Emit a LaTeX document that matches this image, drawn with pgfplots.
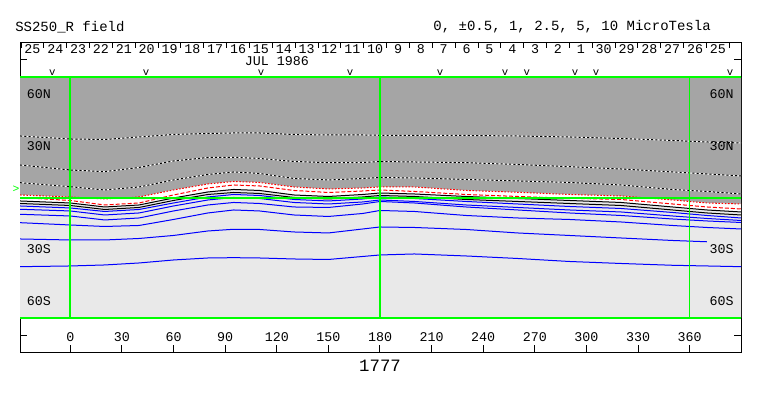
\documentclass[border=0pt]{standalone}
\usepackage{fontspec}
\setmainfont{Liberation Mono}
\usepackage{pgfplots}
\usepgfplotslibrary{fillbetween}
\pgfplotsset{compat=1.18}
\usepackage{pgfplotstable}
\definecolor{darkbg}{RGB}{165,165,165}
\definecolor{lightbg}{RGB}{233,233,233}
\definecolor{lgreen}{RGB}{0,255,0}

\pgfplotstableread{
lon D1 D2 D3 R1 R2 K1 K2 B1 B2 B3 B4 B5 B6 top bot
-29.2 35.73 18.88 8.60 1.45 0 -2.03 -3.49 -4.94 -6.85 -9.76 -14.64 -24.11 -40.20 70 -70
0 33.98 15.98 6.27 0.29 -1.74 -3.20 -4.65 -6.10 -7.84 -10.75 -15.98 -24.69 -39.79 70 -70
20 33.69 14.99 4.36 -0.87 -4.36 -5.52 -6.97 -8.13 -10.17 -13.07 -16.85 -24.69 -39.21 70 -70
40 35.15 17.43 6.10 0.29 -3.20 -4.36 -5.81 -6.97 -9.00 -11.91 -16.27 -23.82 -38.05 70 -70
60 36.60 21.20 10.17 4.36 1.45 -0.29 -1.74 -3.20 -4.94 -7.84 -12.78 -22.07 -36.31 70 -70
80 37.18 23.24 13.36 7.84 5.52 3.20 1.74 0.29 -1.45 -4.36 -9.00 -19.46 -35.15 70 -70
95 37.47 23.35 14.81 9.29 7.26 4.65 2.90 1.74 0 -2.90 -7.26 -18.47 -34.97 70 -70
110 37.47 22.66 13.94 8.71 6.68 4.07 2.32 1.16 -0.58 -3.49 -7.84 -18.59 -35.15 70 -70
130 36.60 20.91 11.04 6.10 4.07 1.45 0 -1.16 -2.90 -5.52 -10.17 -20.04 -35.73 70 -70
150 36.31 20.22 10.17 4.94 2.90 0.58 -0.87 -2.03 -3.78 -5.81 -11.04 -20.62 -36.02 70 -70
170 36.31 20.33 11.04 5.52 3.78 1.74 0.29 -0.87 -2.61 -3.78 -9.29 -18.30 -34.27 70 -70
180 36.13 20.91 11.62 6.10 4.36 2.61 1.16 0.29 -1.45 -2.32 -7.55 -17.14 -33.40 70 -70
200 36.13 20.62 11.33 6.10 3.49 2.03 0.58 -0.58 -2.32 -3.20 -8.13 -17.43 -32.82 70 -70
230 36.02 20.22 10.46 4.07 1.74 0.58 -1.16 -2.32 -4.36 -5.52 -10.46 -18.59 -33.98 70 -70
260 35.73 19.17 9.59 3.02 0.58 -0.58 -2.32 -3.78 -5.81 -7.26 -11.91 -20.62 -35.44 70 -70
290 35.15 17.89 8.71 1.74 -0.46 -1.74 -3.49 -5.23 -7.26 -9.00 -12.78 -22.07 -37.18 70 -70
320 34.27 16.56 7.26 0.87 -1.16 -2.90 -4.65 -6.39 -8.42 -10.46 -14.23 -23.53 -38.34 70 -70
350 33.11 14.81 4.65 -1.45 -3.78 -5.52 -7.26 -8.71 -10.75 -12.49 -16.27 -24.98 -39.39 70 -70
370 32.24 13.65 3.49 -3.20 -5.52 -7.26 -9.00 -10.46 -12.20 -13.65 -17.43 -25.73 -39.79 70 -70
389.8 31.66 12.49 2.03 -3.78 -6.68 -8.42 -10.17 -11.91 -13.36 -14.52 -18.30 nan -40.20 70 -70
}\contours

\begin{document}
\begin{tikzpicture}
\begin{axis}[
  scale only axis, width=540.75pt, height=232.4pt,
  xmin=-29.2, xmax=389.8, ymin=-90, ymax=90,
  axis line style={black, line width=0.75pt},
  tick align=inside,
  xtick={0,30,...,360}, xtick pos=lower, xticklabels={},
  ytick={-80,-70,...,80}, yticklabels={},
  major tick length=5.6pt,
  tick style={black, line width=0.75pt},
  no markers, unbounded coords=jump,
  every axis plot/.append style={line width=0.75pt},
]
% named boundary paths
\addplot[draw=none, name path=top] table[x=lon,y=top] {\contours};
\addplot[draw=none, name path=bot] table[x=lon,y=bot] {\contours};
\addplot[draw=none, name path=r1] table[x=lon,y=R1] {\contours};
\addplot[draw=none, name path=k1] table[x=lon,y=K1] {\contours};
% shading
\addplot[darkbg, draw=none] fill between[of=top and r1];
\addplot[white, draw=none] fill between[of=r1 and k1];
\addplot[lightbg, draw=none] fill between[of=k1 and bot];
% dashed contours (black on white)
\addplot[white] table[x=lon,y=D1] {\contours};
\addplot[black, dash pattern=on 1.6pt off 1.6pt] table[x=lon,y=D1] {\contours};
\addplot[white] table[x=lon,y=D2] {\contours};
\addplot[black, dash pattern=on 1.6pt off 1.6pt] table[x=lon,y=D2] {\contours};
\addplot[white] table[x=lon,y=D3] {\contours};
\addplot[black, dash pattern=on 1.6pt off 1.6pt] table[x=lon,y=D3] {\contours};
% red contours
\addplot[red, dash pattern=on 1.2pt off 1.2pt] table[x=lon,y=R1] {\contours};
\addplot[red, dash pattern=on 3pt off 1.5pt] table[x=lon,y=R2] {\contours};
% black contours
\addplot[black] table[x=lon,y=K1] {\contours};
\addplot[black] table[x=lon,y=K2] {\contours};
% blue contours
\addplot[blue] table[x=lon,y=B1] {\contours};
\addplot[blue] table[x=lon,y=B2] {\contours};
\addplot[blue] table[x=lon,y=B3] {\contours};
\addplot[blue] table[x=lon,y=B4] {\contours};
\addplot[blue] table[x=lon,y=B5] {\contours};
\addplot[blue] table[x=lon,y=B6] {\contours};
% green reference lines
\addplot[draw=lgreen, line width=1.2pt] coordinates {(-29.2,-0.4) (389.8,-0.4)};
\addplot[draw=lgreen, line width=1.2pt] coordinates {(-29.2,70) (389.8,70)};
\addplot[draw=lgreen, line width=1.2pt] coordinates {(-29.2,-70) (389.8,-70)};
\addplot[draw=lgreen, line width=1.2pt] coordinates {(0,-70) (0,70)};
\addplot[draw=lgreen, line width=1.2pt] coordinates {(180,-70) (180,70)};
\addplot[draw=lgreen, line width=1.2pt] coordinates {(359.8,-70) (359.8,70)};
\end{axis}
% annotations in pixel coordinates of the reference
\begin{scope}[x=0.75pt,y=-0.75pt,shift={(-15pt,264.3pt)},
  every node/.style={inner sep=0pt, font=\fontsize{10pt}{12pt}\selectfont}]
\path (0,0) rectangle (763,396);
\node[anchor=west, font=\fontsize{10.5pt}{12pt}\selectfont] at (15,27) {SS250\_R field};
\node[anchor=east, font=\fontsize{10.5pt}{12pt}\selectfont] at (711,27) {0, ±0.5, 1, 2.5, 5, 10 MicroTesla};
\node[font=\fontsize{13pt}{15pt}\selectfont] at (380,366) {1777};
\foreach \d [count=\k from 0] in {25,24,23,22,21,20,19,18,17,16,15,14,13,12,11,10,9,8,7,6,5,4,3,2,1,30,29,28,27,26,25}
  \node at ({21+22.85*(\k+0.5)},49) {\d};
\foreach \k in {0,...,31}
  \draw[line width=0.75pt] ({21+22.85*\k},43) -- ++(0,5);
\node at (277,61.5) {JUL 1986};
\foreach \x in {52.3,146,261,350,440,505,526.7,575,596,730}
  \node[font=\fontsize{8pt}{10pt}\selectfont] at (\x,73) {v};
\foreach \l in {0,30,...,360}
  \node at ({70.3+1.7206*\l},337.5) {\l};
\node[anchor=west] at (26.5,94.2) {60N};
\node[anchor=west] at (26.5,145.9) {30N};
\node[anchor=west] at (26.5,249.1) {30S};
\node[anchor=west] at (26.5,300.8) {60S};
\node[anchor=east] at (734,94.2) {60N};
\node[anchor=east] at (734,145.9) {30N};
\node[anchor=east] at (734,249.1) {30S};
\node[anchor=east] at (734,300.8) {60S};
\node[text=lgreen, font=\fontsize{8.5pt}{10pt}\selectfont] at (16,189) {>};
\end{scope}
\end{tikzpicture}
\end{document}
